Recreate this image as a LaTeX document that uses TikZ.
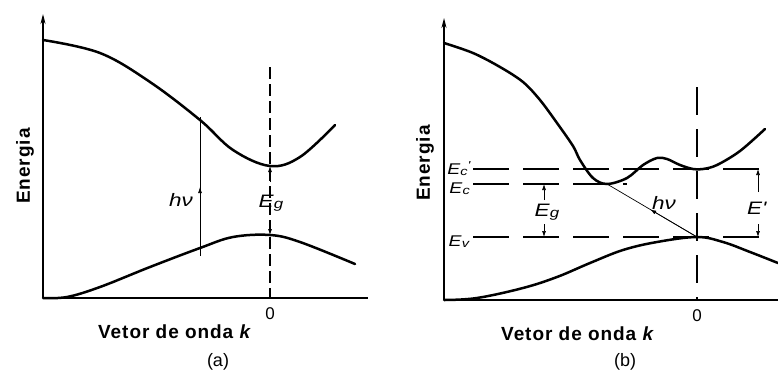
\documentclass[tikz,border=0pt]{standalone}
\usepackage{fontspec}
\setmainfont{Liberation Sans}
\newfontfamily\labfont{Liberation Sans}[LetterSpace=5]
\newfontfamily\symfont{Liberation Sans}[FakeStretch=1.25]
\usetikzlibrary{arrows.meta,calc}
\newcommand{\Esub}[1]{\textit{E}\raisebox{-1.5pt}{\scalebox{0.75}{\textit{#1}}}}
\newcommand{\Esubp}[1]{\textit{E}\raisebox{-1.5pt}{\scalebox{0.75}{\textit{#1}}}\raisebox{5pt}{\scalebox{0.75}{\textit{'}}}}
\begin{document}
\begin{tikzpicture}[x=1pt,y=-1pt,
  band/.style={line width=2.5pt,line cap=round},
  axisline/.style={line width=1.4pt},
  vdash/.style={line width=1.1pt,dash pattern=on 12pt off 5pt},
  vdashb/.style={line width=1.1pt,dash pattern=on 28pt off 14pt},
  hdash/.style={line width=1.1pt,dash pattern=on 36pt off 14pt},
  thinline/.style={line width=0.7pt},
  tip/.style={line width=0.7pt,-{Latex[length=6pt,width=4pt]}},
  axtip/.style={-{Stealth[length=10pt,width=5pt]}},
  lab/.style={font=\labfont\bfseries\fontsize{19}{22}\selectfont,inner sep=0pt},
  sym/.style={font=\symfont\fontsize{18}{20}\selectfont,inner sep=0pt},
  symb/.style={font=\symfont\fontsize{15.5}{17}\selectfont,inner sep=0pt},
  zero/.style={font=\fontsize{17}{19}\selectfont,inner sep=0pt},
  captext/.style={font=\fontsize{18}{20}\selectfont,inner sep=0pt}]
\useasboundingbox (0,0) rectangle (778,383);

% ---------------- panel (a)
\coordinate (aO) at (43,298);
\coordinate (aT) at (43,14);
\coordinate (aX) at (368,298);
\draw[axisline,axtip] (aO) -- (aT);
\draw[axisline] (aO) -- (aX);
\draw[band] plot[smooth,tension=0.6] coordinates {(43,40) (100,53) (150,82) (200,120) (233,150) (270,166) (300,157) (335,125)};
\draw[band] plot[smooth,tension=0.6] coordinates {(43,298) (67,297) (100,287) (150,267) (200,248) (233,237) (270,235) (300,242) (355,264)};
\coordinate (aDtop) at (270,67);
\coordinate (aDbot) at (270,298);
\draw[vdash] (aDtop) -- (aDbot);
\coordinate (aCmin) at (270,166);
\coordinate (aVmax) at (270,235);
\coordinate (aEgA) at (270,182);
\coordinate (aEgB) at (270,222);
\draw[tip] (aEgA) -- (aCmin);
\draw[tip] (aEgB) -- (aVmax);
\node[sym] (aEg) at (271,203) {\Esub{g}};
\coordinate (aH1) at (200,117);
\coordinate (aH2) at (200,256);
\coordinate (aHm) at (200,187);
\draw[thinline] (aH1) -- (aH2);
\draw[tip] (aH2) -- (aHm);
\node[sym,anchor=east] (ahv) at (193,200) {\textit{hν}};
\node[lab,rotate=90] (aEn) at (25,166) {Energia};
\node[zero] (a0) at (270,314) {0};
\node[lab] (aK) at (175,332) {Vetor de onda \textit{k}};
\node[captext] (acap) at (218,362) {(a)};

% ---------------- panel (b)
\coordinate (bO) at (444,300);
\coordinate (bT) at (444,18);
\coordinate (bX) at (778,300);
\draw[axisline,axtip] (bO) -- (bT);
\draw[axisline] (bO) -- (bX);
\draw[band] plot[smooth,tension=0.55] coordinates {(444,43) (473,53) (500,67) (523,82) (540,100) (557,123) (573,146) (580,160) (593,178) (607,184) (627,178) (643,165) (657,158) (667,159) (680,165) (693,169) (703,169) (717,165) (740,151) (765,129)};
\draw[band] plot[smooth,tension=0.6] coordinates {(444,300) (477,298) (523,288) (557,277) (590,263) (623,250) (657,242) (697,237) (723,242) (750,252) (778,263)};
\coordinate (bDtop) at (697,87);
\coordinate (bDbot) at (697,300);
\draw[vdashb] (bDtop) -- (bDbot);
% horizontal levels
\coordinate (bCpL) at (473,169);
\coordinate (bCpR) at (765,169);
\coordinate (bCL) at (473,184);
\coordinate (bCR) at (627,184);
\coordinate (bVL) at (473,237);
\coordinate (bVR) at (767,237);
\draw[hdash] (bCpL) -- (bCpR);
\draw[hdash] (bCL) -- (bCR);
\draw[hdash] (bVL) -- (bVR);
\node[symb,anchor=base east] (bEcp) at (471,174) {\Esubp{c}};
\node[symb,anchor=base east] (bEc) at (470,193) {\Esub{c}};
\node[symb,anchor=base east] (bEv) at (470,246) {\Esub{v}};
% Eg arrows
\coordinate (bEgT) at (544,184);
\coordinate (bEgA) at (544,200);
\coordinate (bEgB) at (544,224);
\coordinate (bEgV) at (544,237);
\draw[tip] (bEgA) -- (bEgT);
\draw[tip] (bEgB) -- (bEgV);
\node[sym] (bEg) at (547,212) {\Esub{g}};
% E' arrows
\coordinate (bPT) at (758,169);
\coordinate (bPA) at (758,192);
\coordinate (bPB) at (758,224);
\coordinate (bPV) at (758,237);
\draw[tip] (bPA) -- (bPT);
\draw[tip] (bPB) -- (bPV);
\node[sym] (bEpr) at (757,208) {\textit{E'}};
% h nu transition
\coordinate (bVmax) at (697,237);
\coordinate (bCmin) at (607,184);
\draw[thinline] (bVmax) -- (bCmin);
\draw[tip] (bVmax) -- ($(bVmax)!0.52!(bCmin)$);
\node[sym] (bhv) at (664,203) {\textit{hν}};
\node[lab,rotate=90] (bEn) at (425,163) {Energia};
\node[zero] (b0) at (697,316) {0};
\node[lab] (bK) at (578,334) {Vetor de onda \textit{k}};
\node[captext] (bcap) at (625,362) {(b)};
\end{tikzpicture}
\end{document}
